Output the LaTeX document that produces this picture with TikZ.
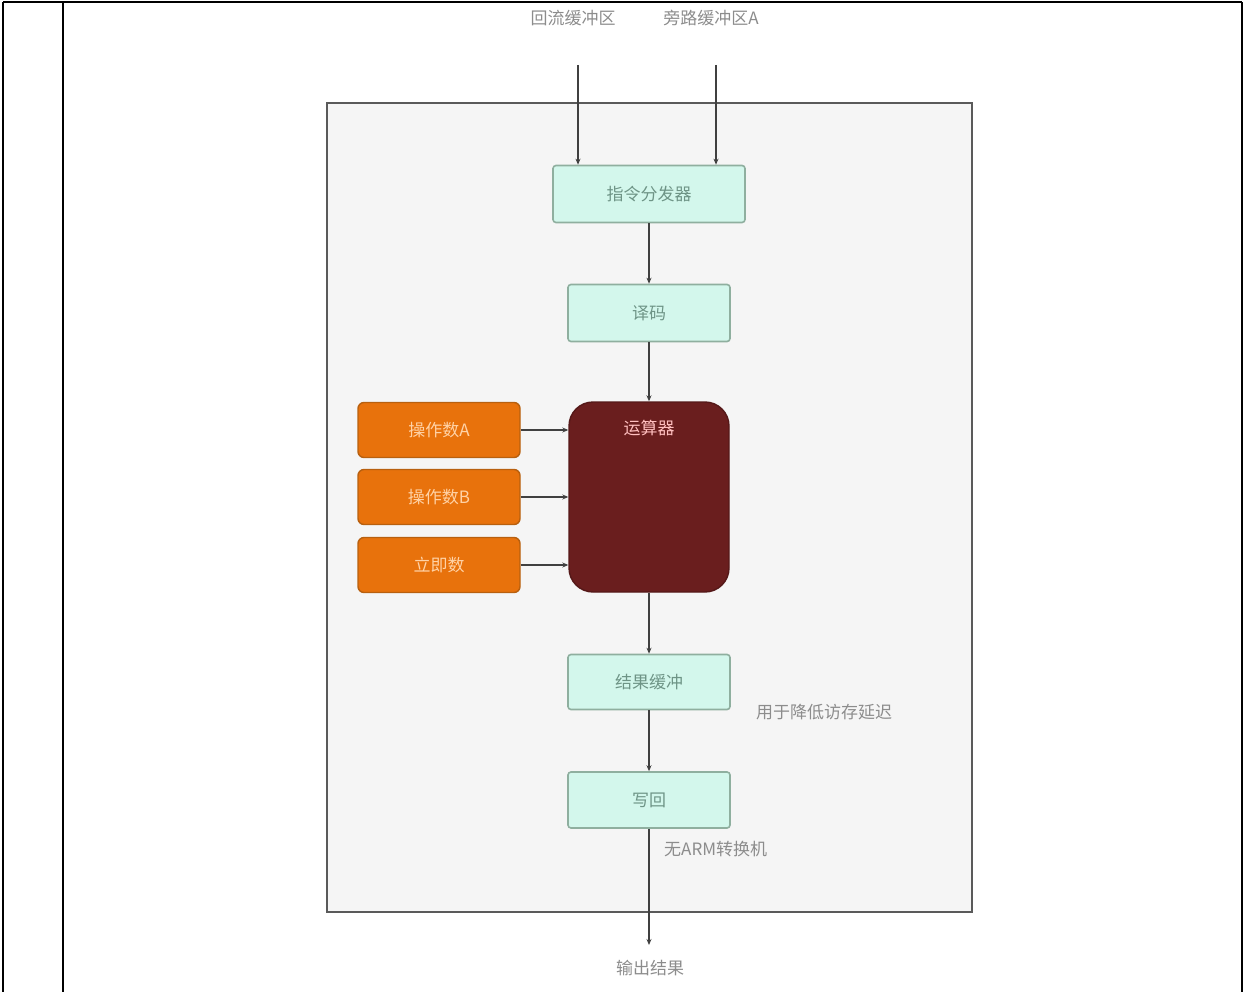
\documentclass[tikz,border=0pt]{standalone}
\usepackage{fontspec}
\setmainfont{Noto Sans CJK SC}
\usetikzlibrary{arrows.meta}
\definecolor{mint}{HTML}{D3F7EC}
\definecolor{mintline}{HTML}{8FAF9F}
\definecolor{mintText}{HTML}{6E9486}
\definecolor{panel}{HTML}{F5F5F5}
\definecolor{panelline}{HTML}{5A5A5A}
\definecolor{orangebox}{HTML}{E8720C}
\definecolor{orangeline}{HTML}{B8600F}
\definecolor{maroon}{HTML}{6A1E1E}
\definecolor{labelgray}{HTML}{8C8C8C}
\tikzset{
  x=1pt, y=-1pt,
  stagebox/.style={draw=mintline, line width=1.6pt, fill=mint, rounded corners=3pt,
    text=mintText, font=\fontsize{17}{20}\selectfont},
  srcbox/.style={draw=orangeline, line width=1.4pt, fill=orangebox, rounded corners=6pt,
    text=orange!35, font=\fontsize{17}{20}\selectfont},
  corebox/.style={draw=maroon!80!black, line width=1.4pt, fill=maroon, rounded corners=24pt},
  flow/.style={draw=black!75, line width=1.1pt, -{Stealth[length=6pt,width=5pt]}},
  note/.style={text=labelgray, font=\fontsize{17}{20}\selectfont, inner sep=0pt},
}
\begin{document}
\begin{tikzpicture}
\useasboundingbox (0,0) rectangle (1244,992);
% page frame and side column
\draw[line width=1.2pt] (3,2) -- (1242,2);
\draw[line width=1.2pt] (3,2) -- (3,992);
\draw[line width=1.2pt] (63,2) -- (63,992);
\draw[line width=1.2pt] (1242,2) -- (1242,992);
% processing panel
\draw[draw=panelline, line width=2.4pt, fill=panel] (327,103) rectangle (972,912);

% stages
\node[stagebox, minimum width=192pt, minimum height=57pt] (disp) at (649,194) {指令分发器};
\node[stagebox, minimum width=162pt, minimum height=57pt] (dec) at (649,313) {译码};
\node[corebox, minimum width=160pt, minimum height=190pt] (core) at (649,497) {};
\node[text=red!25!white, font=\fontsize{17}{20}\selectfont] (coretxt) at (649,428) {运算器};
\node[stagebox, minimum width=162pt, minimum height=55pt] (buf) at (649,682) {结果缓冲};
\node[stagebox, minimum width=162pt, minimum height=56pt] (wb) at (649,800) {写回};

% operand sources
\node[srcbox, minimum width=162pt, minimum height=55pt] (srcA) at (439,430) {操作数A};
\node[srcbox, minimum width=162pt, minimum height=55pt] (srcB) at (439,497) {操作数B};
\node[srcbox, minimum width=162pt, minimum height=55pt] (srcC) at (439,565) {立即数};

% inputs
\node[note] (inA) at (573,18) {回流缓冲区};
\node[note] (inB) at (711,18) {旁路缓冲区A};
\coordinate (inAtop) at (578,65);
\coordinate (inBtop) at (716,65);
\draw[flow] (inAtop) -- (inAtop |- disp.north);
\draw[flow] (inBtop) -- (inBtop |- disp.north);

% main flow
\draw[flow] (disp.south) -- (dec.north);
\draw[flow] (dec.south) -- (core.north);
\draw[flow] (core.south) -- (buf.north);
\draw[flow] (buf.south) -- (wb.north);
\coordinate (outEnd) at (649,945);
\draw[flow] (wb.south) -- (outEnd);

\draw[flow] (srcA.east) -- (srcA.east -| core.west);
\draw[flow] (srcB.east) -- (srcB.east -| core.west);
\draw[flow] (srcC.east) -- (srcC.east -| core.west);

% annotations
\node[note, anchor=west] (bufnote) at (756,712) {用于降低访存延迟};
\node[note, anchor=west] (wbnote) at (664,849) {无ARM转换机};
\node[note] (outlbl) at (650,968) {输出结果};
\end{tikzpicture}
\end{document}
